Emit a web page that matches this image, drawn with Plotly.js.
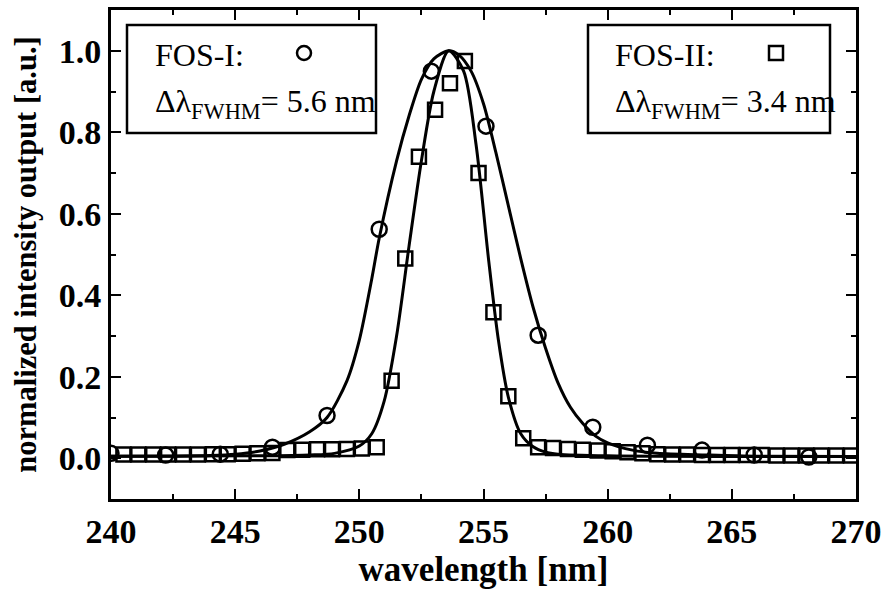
<!DOCTYPE html>
<html>
<head>
<meta charset="utf-8">
<script src="https://cdn.plot.ly/plotly-3.0.1.min.js"></script>
<style>html,body{margin:0;padding:0;background:#fff;}</style>
</head>
<body>
<div id="chart" style="width:884px;height:592px;"></div>
<script>
// FOS-I measured points (circles)
const fos1X = [240.0, 242.2, 244.4, 246.5, 248.7, 250.8, 252.9, 255.1, 257.2, 259.4, 261.6, 263.8, 265.9, 268.1];
const fos1Y = [0.012, 0.008, 0.010, 0.027, 0.105, 0.562, 0.950, 0.815, 0.302, 0.076, 0.032, 0.020, 0.008, 0.003];

// FOS-II measured points (squares)
const fos2X = [240.5, 241.1, 241.7, 242.3, 242.9, 243.5, 244.1, 244.7, 245.3, 245.9, 246.5,
  247.1, 247.7, 248.3, 248.9, 249.5, 250.1, 250.7, 251.3, 251.85, 252.4, 253.05, 253.65,
  254.25, 254.8, 255.4, 256.0, 256.6, 257.2, 257.8, 258.4, 259.0, 259.6, 260.2, 260.8,
  261.4, 262.0, 262.6, 263.2, 263.8, 264.4, 265.0, 265.6, 266.2, 266.8, 267.4, 268.0,
  268.6, 269.2, 269.8];
const fos2Y = [0.009, 0.009, 0.009, 0.009, 0.009, 0.009, 0.010, 0.010, 0.011, 0.012, 0.013,
  0.020, 0.021, 0.022, 0.022, 0.023, 0.024, 0.027, 0.190, 0.490, 0.740, 0.855, 0.920,
  0.975, 0.700, 0.358, 0.152, 0.049, 0.027, 0.025, 0.023, 0.021, 0.019, 0.017, 0.015,
  0.012, 0.010, 0.009, 0.009, 0.008, 0.008, 0.008, 0.008, 0.008, 0.007, 0.007, 0.007,
  0.007, 0.007, 0.007];

// Fit curves
const fit1X = [240, 242, 244, 245, 246, 247, 248, 248.7, 249.5, 250, 250.5, 250.8, 251.5, 252,
  252.5, 253, 253.6, 254, 254.5, 255, 255.5, 256, 256.5, 257, 257.5, 258, 258.5, 259, 259.5,
  260, 261, 262, 264, 266, 270];
const fit1Y = [0.005, 0.005, 0.007, 0.010, 0.018, 0.035, 0.065, 0.100, 0.190, 0.290, 0.440, 0.540,
  0.730, 0.840, 0.930, 0.980, 1.000, 0.990, 0.950, 0.870, 0.750, 0.620, 0.490, 0.370, 0.270,
  0.185, 0.125, 0.085, 0.055, 0.038, 0.020, 0.012, 0.008, 0.005, 0.004];

const fit2X = [240, 246, 248, 249, 250, 250.5, 251, 251.5, 252, 252.5, 253, 253.6, 254.2, 254.7,
  255.2, 255.6, 256, 256.5, 257, 257.5, 258, 260, 270];
const fit2Y = [0.005, 0.006, 0.008, 0.012, 0.030, 0.060, 0.140, 0.300, 0.520, 0.730, 0.900, 1.000,
  0.950, 0.770, 0.490, 0.290, 0.150, 0.060, 0.028, 0.015, 0.010, 0.006, 0.004];

const xTicks = [240, 245, 250, 255, 260, 265, 270];
const yTicks = [0.0, 0.2, 0.4, 0.6, 0.8, 1.0];

const FONT = 'Liberation Serif, Times New Roman, serif';

const traces = [
  {x: fos1X, y: fos1Y, type: 'scatter', mode: 'markers', name: 'FOS-I',
   marker: {symbol: 'circle-open', size: 15, color: '#000', line: {width: 2.5, color: '#000'}}},
  {x: fos2X, y: fos2Y, type: 'scatter', mode: 'markers', name: 'FOS-II',
   marker: {symbol: 'square-open', size: 14, color: '#000', line: {width: 2.5, color: '#000'}}},
  {x: fit1X, y: fit1Y, type: 'scatter', mode: 'lines', name: 'fit I',
   line: {color: '#000', width: 3, shape: 'spline', smoothing: 0.8}},
  {x: fit2X, y: fit2Y, type: 'scatter', mode: 'lines', name: 'fit II',
   line: {color: '#000', width: 3, shape: 'spline', smoothing: 0.8}}
];

function px(x) { return (x - 111) / 745; }
function py(y) { return (499 - y) / 489; }

const layout = {
  width: 884, height: 592,
  margin: {l: 111, r: 28, t: 10, b: 93},
  paper_bgcolor: '#fff', plot_bgcolor: '#fff',
  showlegend: false,
  font: {family: FONT, color: '#000', size: 30},
  xaxis: {
    range: [240, 270], tickvals: xTicks, ticktext: xTicks.map(String),
    ticks: 'inside', ticklen: 10, tickwidth: 2, tickcolor: '#000',
    minor: {dtick: 2.5, tick0: 240, ticks: 'inside', ticklen: 5, tickwidth: 2, tickcolor: '#000'},
    showline: true, linewidth: 3, linecolor: '#000', mirror: 'allticks',
    showgrid: false, zeroline: false,
    tickfont: {family: FONT, size: 34, color: '#000', weight: 'bold'},
    title: {text: 'wavelength [nm]', font: {family: FONT, size: 35, color: '#000', weight: 'bold'}, standoff: 6}
  },
  yaxis: {
    range: [-0.1, 1.1], tickvals: yTicks, ticktext: yTicks.map(v => v.toFixed(1)),
    ticks: 'inside', ticklen: 10, tickwidth: 2, tickcolor: '#000',
    minor: {dtick: 0.1, tick0: 0, ticks: 'inside', ticklen: 5, tickwidth: 2, tickcolor: '#000'},
    showline: true, linewidth: 3, linecolor: '#000', mirror: 'allticks',
    showgrid: false, zeroline: false,
    tickfont: {family: FONT, size: 34, color: '#000', weight: 'bold'},
    title: {text: 'normalized intensity output [a.u.]', font: {family: FONT, size: 30.5, color: '#000', weight: 'bold'}, standoff: 14}
  },
  shapes: [
    {type: 'rect', xref: 'paper', yref: 'paper', x0: px(127), x1: px(376), y0: py(133), y1: py(25),
     line: {color: '#000', width: 2.5}, fillcolor: '#fff', layer: 'above'},
    {type: 'rect', xref: 'paper', yref: 'paper', x0: px(588), x1: px(830), y0: py(133), y1: py(25),
     line: {color: '#000', width: 2.5}, fillcolor: '#fff', layer: 'above'},
    {type: 'circle', xref: 'paper', yref: 'paper', x0: px(297), x1: px(311), y0: py(60), y1: py(46),
     line: {color: '#000', width: 2.5}, layer: 'above'},
    {type: 'rect', xref: 'paper', yref: 'paper', x0: px(769), x1: px(783), y0: py(60), y1: py(46),
     line: {color: '#000', width: 2.5}, layer: 'above'}
  ],
  annotations: [
    {xref: 'paper', yref: 'paper', x: px(153), y: py(55), xanchor: 'left', yanchor: 'middle',
     text: 'FOS-I:', showarrow: false, font: {family: FONT, size: 32, color: '#000'}},
    {xref: 'paper', yref: 'paper', x: px(153), y: py(104), xanchor: 'left', yanchor: 'middle',
     text: 'Δλ<sub>FWHM</sub>= 5.6 nm', showarrow: false, font: {family: FONT, size: 32, color: '#000'}},
    {xref: 'paper', yref: 'paper', x: px(613), y: py(55), xanchor: 'left', yanchor: 'middle',
     text: 'FOS-II:', showarrow: false, font: {family: FONT, size: 32, color: '#000'}},
    {xref: 'paper', yref: 'paper', x: px(613), y: py(104), xanchor: 'left', yanchor: 'middle',
     text: 'Δλ<sub>FWHM</sub>= 3.4 nm', showarrow: false, font: {family: FONT, size: 32, color: '#000'}}
  ]
};

Plotly.newPlot('chart', traces, layout, {displayModeBar: false, staticPlot: true});
</script>
</body>
</html>
